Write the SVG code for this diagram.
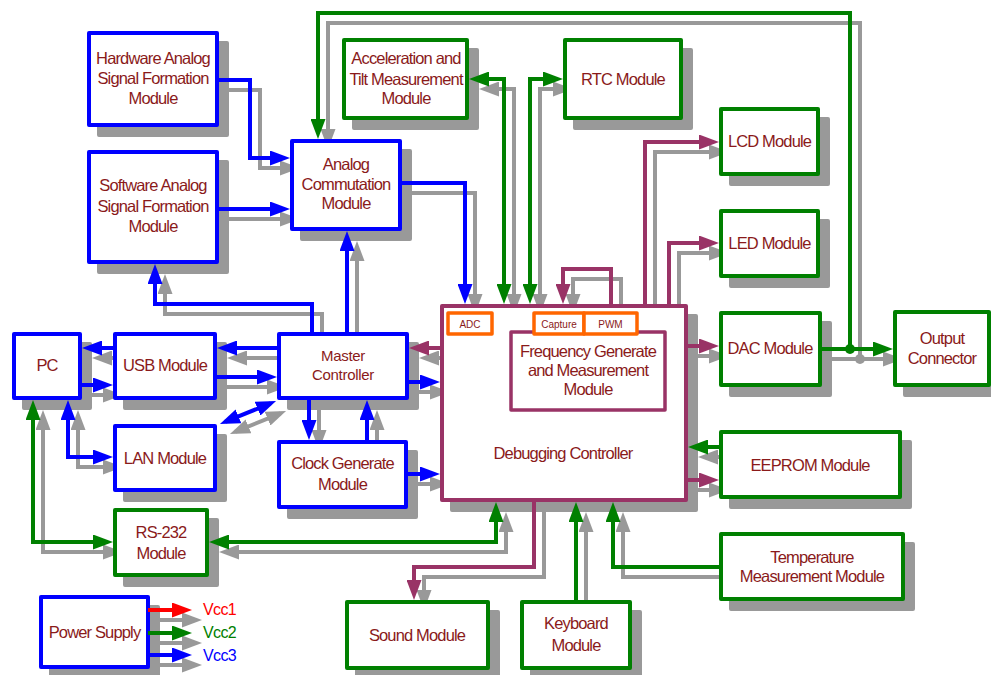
<svg xmlns="http://www.w3.org/2000/svg" xmlns:xlink="http://www.w3.org/1999/xlink" width="991" height="675" viewBox="0 0 991 675">
  <defs>
    <style>
      .node rect { fill: #ffffff; stroke-width: 4; stroke-linejoin: round; }
      .blue rect { stroke: #0000ff; }
      .green rect { stroke: #008000; }
      .plum > rect { stroke: #993366; }
      rect.sub { stroke: #993366; stroke-width: 3.5; }
      rect.port { stroke: #ff6600; stroke-width: 3.5; }
      text { font-family: "Liberation Sans", Arial, sans-serif; font-size: 16.5px; letter-spacing: -0.85px; fill: #8a1a1a; text-anchor: middle; }
      text.sm { font-size: 15px; letter-spacing: -0.3px; }
      text.tiny { font-size: 10px; letter-spacing: 0; }
      text.rail { font-size: 16px; letter-spacing: -0.6px; text-anchor: start; }
      #connectors path { fill: none; stroke-width: 4; }
      .cb { stroke: #0000ff; }
      .cg { stroke: #008000; }
      .cp { stroke: #993366; }
      .cr { stroke: #ff0000; }
      .cb.e { marker-end: url(#hb); }
      .cg.e { marker-end: url(#hg); }
      .cp.e { marker-end: url(#hp); }
      .cr.e { marker-end: url(#hr); }
      .cb.s { marker-start: url(#hb); }
      .cg.s { marker-start: url(#hg); }
    </style>
    <!-- arrowheads: tip sits 6px past the path end -->
    <marker id="hb" viewBox="0 0 20 15" refX="14" refY="7.5" markerWidth="20" markerHeight="15" markerUnits="userSpaceOnUse" orient="auto-start-reverse"><path d="M0,0 L20,7.5 L0,15 Z" fill="#0000ff"/></marker>
    <marker id="hg" viewBox="0 0 20 15" refX="14" refY="7.5" markerWidth="20" markerHeight="15" markerUnits="userSpaceOnUse" orient="auto-start-reverse"><path d="M0,0 L20,7.5 L0,15 Z" fill="#008000"/></marker>
    <marker id="hp" viewBox="0 0 20 15" refX="14" refY="7.5" markerWidth="20" markerHeight="15" markerUnits="userSpaceOnUse" orient="auto-start-reverse"><path d="M0,0 L20,7.5 L0,15 Z" fill="#993366"/></marker>
    <marker id="hr" viewBox="0 0 20 15" refX="14" refY="7.5" markerWidth="20" markerHeight="15" markerUnits="userSpaceOnUse" orient="auto-start-reverse"><path d="M0,0 L20,7.5 L0,15 Z" fill="#ff0000"/></marker>
    <!-- flat grey silhouette used for the drop shadows -->
    <filter id="drop" x="-10%" y="-10%" width="120%" height="120%" color-interpolation-filters="sRGB">
      <feFlood flood-color="#999999"/>
      <feComposite in2="SourceAlpha" operator="in"/>
    </filter>
  </defs>

  <rect width="991" height="675" fill="#ffffff"/>

  <!-- shadows of every box and connector -->
  <g id="shadow" transform="translate(10 10)" filter="url(#drop)">
    <use xlink:href="#nodes"/>
    <use xlink:href="#connectors"/>
  </g>

  <g id="nodes">
    <g id="node-hw-analog" class="node blue">
      <rect x="89" y="33" width="128" height="92"/>
      <text x="153" y="64">Hardware Analog</text>
      <text x="153" y="84">Signal Formation</text>
      <text x="153" y="104">Module</text>
    </g>
    <g id="node-sw-analog" class="node blue">
      <rect x="89" y="152" width="128" height="110"/>
      <text x="153" y="191">Software Analog</text>
      <text x="153" y="212">Signal Formation</text>
      <text x="153" y="232">Module</text>
    </g>
    <g id="node-analog-comm" class="node blue">
      <rect x="292" y="141" width="108" height="88"/>
      <text x="346" y="170">Analog</text>
      <text x="346" y="190">Commutation</text>
      <text x="346" y="209">Module</text>
    </g>
    <g id="node-accel" class="node green">
      <rect x="344" y="40" width="123" height="78"/>
      <text x="406" y="64">Acceleration and</text>
      <text x="406" y="85">Tilt Measurement</text>
      <text x="406" y="104">Module</text>
    </g>
    <g id="node-rtc" class="node green">
      <rect x="565" y="40" width="116" height="78"/>
      <text x="623" y="85">RTC Module</text>
    </g>
    <g id="node-lcd" class="node green">
      <rect x="721" y="109" width="97" height="65"/>
      <text x="769.5" y="147">LCD Module</text>
    </g>
    <g id="node-led" class="node green">
      <rect x="721" y="211" width="97" height="65"/>
      <text x="769.5" y="249">LED Module</text>
    </g>
    <g id="node-dac" class="node green">
      <rect x="721" y="313" width="99" height="72"/>
      <text x="770" y="354">DAC Module</text>
    </g>
    <g id="node-output" class="node green">
      <rect x="895" y="312" width="94" height="73"/>
      <text x="942" y="344">Output</text>
      <text x="942" y="364">Connector</text>
    </g>
    <g id="node-eeprom" class="node green">
      <rect x="721" y="432" width="179" height="65"/>
      <text x="810" y="471">EEPROM Module</text>
    </g>
    <g id="node-temperature" class="node green">
      <rect x="721" y="534" width="182" height="65"/>
      <text x="812" y="563">Temperature</text>
      <text x="812" y="582">Measurement Module</text>
    </g>
    <g id="node-sound" class="node green">
      <rect x="347" y="602" width="141" height="66"/>
      <text x="417" y="641">Sound Module</text>
    </g>
    <g id="node-keyboard" class="node green">
      <rect x="522" y="602" width="108" height="66"/>
      <text x="576" y="629">Keyboard</text>
      <text x="576" y="651">Module</text>
    </g>
    <g id="node-debug" class="node plum">
      <rect x="442" y="306" width="244" height="194"/>
      <text x="563" y="459">Debugging Controller</text>
      <g id="node-freq">
        <rect class="sub" x="511" y="332" width="154" height="78"/>
        <text x="588" y="357">Frequency Generate</text>
        <text x="588" y="376">and Measurement</text>
        <text x="588" y="395">Module</text>
      </g>
      <g id="node-adc">
        <rect class="port" x="448" y="313" width="44" height="21"/>
        <text class="tiny" x="470" y="327.5">ADC</text>
      </g>
      <g id="node-capture">
        <rect class="port" x="534" y="313" width="50" height="21"/>
        <text class="tiny" x="559" y="327.5">Capture</text>
      </g>
      <g id="node-pwm">
        <rect class="port" x="584" y="313" width="53" height="21"/>
        <text class="tiny" x="610.5" y="327.5">PWM</text>
      </g>
    </g>
    <g id="node-master" class="node blue">
      <rect x="279" y="334" width="128" height="64"/>
      <text class="sm" x="343" y="361">Master</text>
      <text class="sm" x="343" y="380">Controller</text>
    </g>
    <g id="node-clock" class="node blue">
      <rect x="279" y="442" width="127" height="65"/>
      <text x="342.5" y="469">Clock Generate</text>
      <text x="342.5" y="490">Module</text>
    </g>
    <g id="node-pc" class="node blue">
      <rect x="14" y="334" width="66" height="64"/>
      <text x="47" y="371">PC</text>
    </g>
    <g id="node-usb" class="node blue">
      <rect x="115" y="334" width="100" height="64"/>
      <text x="165" y="371">USB Module</text>
    </g>
    <g id="node-lan" class="node blue">
      <rect x="115" y="426" width="100" height="64"/>
      <text x="165" y="464">LAN Module</text>
    </g>
    <g id="node-rs232" class="node green">
      <rect x="115" y="510" width="92" height="65"/>
      <text x="161" y="538">RS-232</text>
      <text x="161" y="559">Module</text>
    </g>
    <g id="node-power" class="node blue">
      <rect x="41" y="597" width="107" height="70"/>
      <text x="94.5" y="638">Power Supply</text>
    </g>
  </g>

  <g id="connectors">
    <!-- blue: analog front end and host side -->
    <path class="cb e" d="M217,80 H250 V158 H284"/>
    <path class="cb e" d="M217,209 H284"/>
    <path class="cb e" d="M400,183 H465 V298"/>
    <path class="cb e" d="M347,334 V237"/>
    <path class="cb e" d="M312,334 V304 H155 V270"/>
    <path class="cb e" d="M279,348 H223"/>
    <path class="cb e" d="M215,377 H271"/>
    <path class="cb e" d="M115,348 H88"/>
    <path class="cb e" d="M80,385 H107"/>
    <path class="cb s e" d="M68,406 V457 H107"/>
    <path class="cb s e" d="M225.5,421.7 L270.5,403.3"/>
    <path class="cb e" d="M309,398 V434"/>
    <path class="cb e" d="M367,442 V406"/>
    <path class="cb e" d="M407,382 H434"/>
    <path class="cb e" d="M406,474 H434"/>
    <path class="cb e" d="M148,655 H186"/>
    <!-- green: peripherals -->
    <path class="cg e" d="M850,349 V13 H318 V133"/>
    <path class="cg e" d="M820,349 H887"/>
    <circle cx="850" cy="349" r="5" fill="#008000"/>
    <path class="cg s e" d="M475,79 H504 V298"/>
    <path class="cg s e" d="M530,298 V79 H557"/>
    <path class="cg e" d="M721,447 H694"/>
    <path class="cg s e" d="M215,542 H496 V508"/>
    <path class="cg s e" d="M33,406 V542 H107"/>
    <path class="cg e" d="M576,602 V508"/>
    <path class="cg e" d="M721,567 H613 V508"/>
    <path class="cg e" d="M148,633 H186"/>
    <!-- purple: outputs of the debugging controller -->
    <path class="cp e" d="M442,348 H415"/>
    <path class="cp e" d="M611,306 V269 H563 V298"/>
    <path class="cp e" d="M645,306 V142 H713"/>
    <path class="cp e" d="M669,306 V243 H713"/>
    <path class="cp e" d="M686,346 H713"/>
    <path class="cp e" d="M686,480 H713"/>
    <path class="cp e" d="M534,500 V567 H414 V594"/>
    <!-- red supply rail -->
    <path class="cr e" d="M148,610 H186"/>
  </g>

  <g id="rail-labels">
    <text class="rail" x="203" y="615" style="fill:#ff0000">Vcc1</text>
    <text class="rail" x="203" y="638" style="fill:#008000">Vcc2</text>
    <text class="rail" x="203" y="661" style="fill:#0000ff">Vcc3</text>
  </g>
</svg>
